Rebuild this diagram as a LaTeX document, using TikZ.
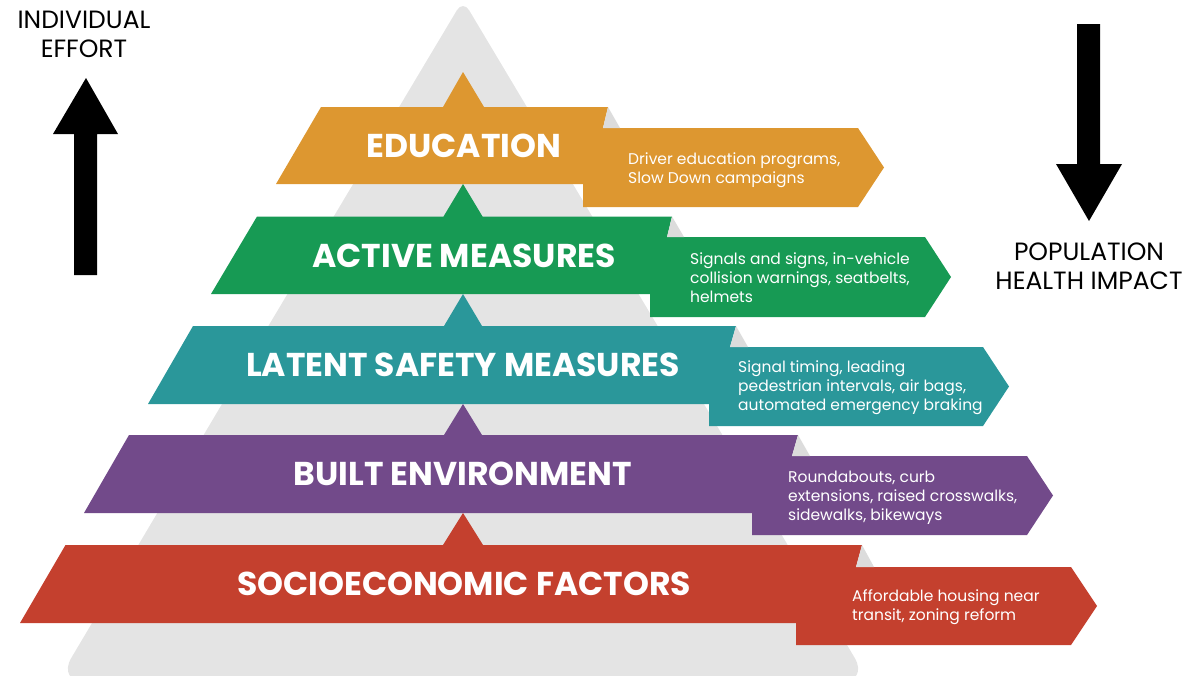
\documentclass[tikz,border=0pt]{standalone}
\usepackage{fontspec}
\setmainfont{Poppins}
\definecolor{cOrange}{HTML}{DD9730}
\definecolor{cGreen}{HTML}{179A54}
\definecolor{cTeal}{HTML}{2A979A}
\definecolor{cPurple}{HTML}{724A8A}
\definecolor{cRed}{HTML}{C4402E}
\definecolor{cGray}{HTML}{E4E4E4}
\definecolor{cFold}{HTML}{DCDCDC}
\tikzset{
  bandtitle/.style={text=white, font=\fontsize{33}{36}\selectfont\bfseries, anchor=base, inner sep=0},
  banddesc/.style={text=white, font=\fontsize{15.5}{18.7}\selectfont, align=left, anchor=base west, inner sep=0},
  sidelabel/.style={text=black, font=\fontsize{25}{29}\selectfont, align=center, anchor=base, inner sep=0},
  fold/.style={fill=cFold},
  blockarrow/.style={fill=black}
}
\begin{document}
\begin{tikzpicture}[x=1pt,y=-1pt]
\useasboundingbox (0,0) rectangle (1198,675);
\begin{scope}
\clip (0,0) rectangle (1198,675);
\fill[cGray] [rounded corners=12] (260,340) -- (463,0) -- (666,340) [rounded corners=28] -- (869,682) -- (57,682) -- cycle;
\end{scope}
% education
\fill[cOrange] (321,107) -- (443,107) -- (463,72) -- (484,107) -- (608,107) -- (603,128) -- (858,128) -- (884,167.5) -- (858,207) -- (583,207) -- (583,184) -- (276,184) -- cycle;
\fill[fold] (608,107) -- (603,128) -- (620,128) -- cycle;
% active
\fill[cGreen] (257,216.5) -- (443.5,216.5) -- (463,184) -- (482.5,216.5) -- (672,216.5) -- (667,237) -- (925,237) -- (951,277) -- (925,317) -- (650,317) -- (650,294) -- (211,294) -- cycle;
\fill[fold] (672,216.5) -- (667,237) -- (684,237) -- cycle;
% latent
\fill[cTeal] (193,326) -- (444,326) -- (463,294) -- (482,326) -- (736,326) -- (730,347) -- (983,347) -- (1009,386.5) -- (983,426) -- (709,426) -- (709,404) -- (148,404) -- cycle;
\fill[fold] (736,326) -- (730,347) -- (748,347) -- cycle;
% built
\fill[cPurple] (129,435) -- (444,435) -- (463,404) -- (482,435) -- (798,435) -- (792,456) -- (1027,456) -- (1053,495.5) -- (1027,535) -- (752,535) -- (752,513) -- (84,513) -- cycle;
\fill[fold] (798,435) -- (792,456) -- (810,456) -- cycle;
% socioeconomic
\fill[cRed] (65.5,545) -- (443,545) -- (463,513) -- (483,545) -- (862,545) -- (856,567) -- (1071,567) -- (1097,606) -- (1071,645) -- (796,645) -- (796,623) -- (20,623) -- cycle;
\fill[fold] (862,545) -- (856,567) -- (874,567) -- cycle;

\node[bandtitle] (t1) at (464,157) {EDUCATION};
\node[bandtitle] (t2) at (464,267) {ACTIVE MEASURES};
\node[bandtitle] (t3) at (463,376) {LATENT SAFETY MEASURES};
\node[bandtitle] (t4) at (463,485) {BUILT ENVIRONMENT};
\node[bandtitle] (t5) at (464,595) {SOCIOECONOMIC FACTORS};

\node[banddesc] (d1) at (628,183) {Driver education programs,\\Slow Down campaigns};
\node[banddesc] (d2) at (690,302) {Signals and signs, in-vehicle\\collision warnings, seatbelts,\\helmets};
\node[banddesc] (d3) at (738,410) {Signal timing, leading\\pedestrian intervals, air bags,\\automated emergency braking};
\node[banddesc] (d4) at (788,520) {Roundabouts, curb\\extensions, raised crosswalks,\\sidewalks, bikeways};
\node[banddesc] (d5) at (852,620) {Affordable housing near\\transit, zoning reform};

% side arrows
\fill[blockarrow] (74,275) -- (74,134) -- (53,134) -- (86,78) -- (118,134) -- (97,134) -- (97,275) -- cycle;
\fill[blockarrow] (1077,24) -- (1077,164) -- (1056,164) -- (1089,221) -- (1122,164) -- (1100,164) -- (1100,24) -- cycle;
\node[sidelabel] (l1) at (84,57) {INDIVIDUAL\\EFFORT};
\node[sidelabel] (l2) at (1089,289) {POPULATION\\HEALTH IMPACT};
\end{tikzpicture}
\end{document}
